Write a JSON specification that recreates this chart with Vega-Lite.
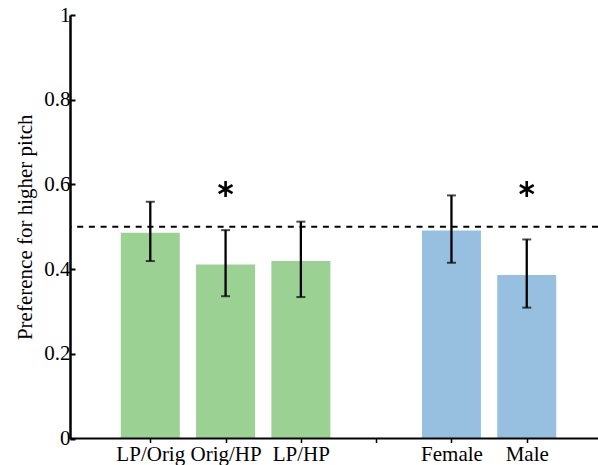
{
  "$schema": "https://vega.github.io/schema/vega-lite/v6.json",
  "width": 528,
  "height": 423.5,
  "autosize": {"type": "none"},
  "padding": {"left": 70, "top": 15, "right": 0, "bottom": 26.5},
  "background": "white",
  "config": {
    "view": {"stroke": null},
    "font": "Liberation Serif",
    "axis": {
      "labelFont": "Liberation Serif",
      "titleFont": "Liberation Serif",
      "labelColor": "black",
      "titleColor": "black",
      "tickColor": "black",
      "domainColor": "black",
      "grid": false
    }
  },
  "data": {
    "values": [
      {"pos": 1, "label": "LP/Orig", "group": "cond", "value": 0.486, "lo": 0.419, "hi": 0.559, "sig": ""},
      {"pos": 2, "label": "Orig/HP", "group": "cond", "value": 0.411, "lo": 0.336, "hi": 0.492, "sig": "*"},
      {"pos": 3, "label": "LP/HP", "group": "cond", "value": 0.419, "lo": 0.334, "hi": 0.512, "sig": ""},
      {"pos": 5, "label": "Female", "group": "sex", "value": 0.491, "lo": 0.415, "hi": 0.574, "sig": ""},
      {"pos": 6, "label": "Male", "group": "sex", "value": 0.386, "lo": 0.309, "hi": 0.47, "sig": "*"}
    ]
  },
  "encoding": {
    "x": {
      "field": "pos", "type": "quantitative",
      "scale": {"domain": [0, 6.88], "nice": false, "zero": false},
      "axis": {
        "values": [1, 2, 3, 4, 5, 6],
        "labelExpr": "datum.value == 1 ? 'LP/Orig' : datum.value == 2 ? 'Orig/HP' : datum.value == 3 ? 'LP/HP' : datum.value == 5 ? 'Female' : datum.value == 6 ? 'Male' : ''",
        "title": null,
        "labelFont": "Liberation Serif",
        "labelFontSize": 21,
        "labelColor": "black",
        "labelPadding": 18,
        "labelBaseline": "alphabetic",
        "labelOverlap": false,
        "tickSize": 4,
        "tickWidth": 1.5,
        "tickColor": "black",
        "domain": false,
        "grid": false
      }
    }
  },
  "layer": [
    {
      "mark": {"type": "bar", "size": 59, "strokeWidth": 0},
      "encoding": {
        "y": {
          "field": "value", "type": "quantitative",
          "scale": {"domain": [0, 1], "nice": false},
          "axis": {
            "values": [0, 0.2, 0.4, 0.6, 0.8, 1],
            "labelExpr": "datum.value == 0 ? '0' : datum.value == 1 ? '1' : format(datum.value, '.1f')",
            "title": "Preference for higher pitch",
            "titleFont": "Liberation Serif",
            "titleFontSize": 21,
            "titleFontWeight": "normal",
            "titleColor": "black",
            "titlePadding": 8,
            "labelFont": "Liberation Serif",
            "labelFontSize": 21,
            "labelFontWeight": "normal",
            "labelColor": "black",
            "labelPadding": 5,
            "labelOverlap": false,
            "labelFlush": false,
            "tickSize": -5,
            "tickWidth": 2,
            "tickColor": "black",
            "domainWidth": 2.5,
            "domainColor": "black",
            "grid": false
          }
        },
        "color": {
          "field": "group", "type": "nominal",
          "scale": {"domain": ["cond", "sex"], "range": ["#9bd193", "#97bfe0"]},
          "legend": null
        }
      }
    },
    {
      "mark": {"type": "rule", "color": "black", "strokeWidth": 2.3},
      "encoding": {
        "y": {"field": "lo", "type": "quantitative"},
        "y2": {"field": "hi"}
      }
    },
    {
      "mark": {"type": "tick", "color": "black", "thickness": 2, "size": 9, "orient": "horizontal"},
      "encoding": {
        "y": {"field": "lo", "type": "quantitative"}
      }
    },
    {
      "mark": {"type": "tick", "color": "black", "thickness": 2, "size": 9, "orient": "horizontal"},
      "encoding": {
        "y": {"field": "hi", "type": "quantitative"}
      }
    },
    {
      "data": {"values": [{"y": 0.5}]},
      "mark": {"type": "rule", "color": "black", "strokeWidth": 2.2, "strokeDash": [6, 5.7]},
      "encoding": {"x": null, "y": {"field": "y", "type": "quantitative"}}
    },
    {
      "data": {"values": [{"y": 0}]},
      "mark": {"type": "rule", "color": "black", "strokeWidth": 2.2},
      "encoding": {"x": null, "y": {"field": "y", "type": "quantitative"}}
    },
    {
      "transform": [{"filter": "datum.sig != ''"}],
      "mark": {
        "type": "point",
        "shape": "M0,-1L0,1M-0.866,-0.5L0.866,0.5M-0.866,0.5L0.866,-0.5",
        "size": 256,
        "filled": false,
        "stroke": "black",
        "strokeWidth": 2.6,
        "opacity": 1
      },
      "encoding": {
        "y": {"datum": 0.589}
      }
    }
  ]
}
